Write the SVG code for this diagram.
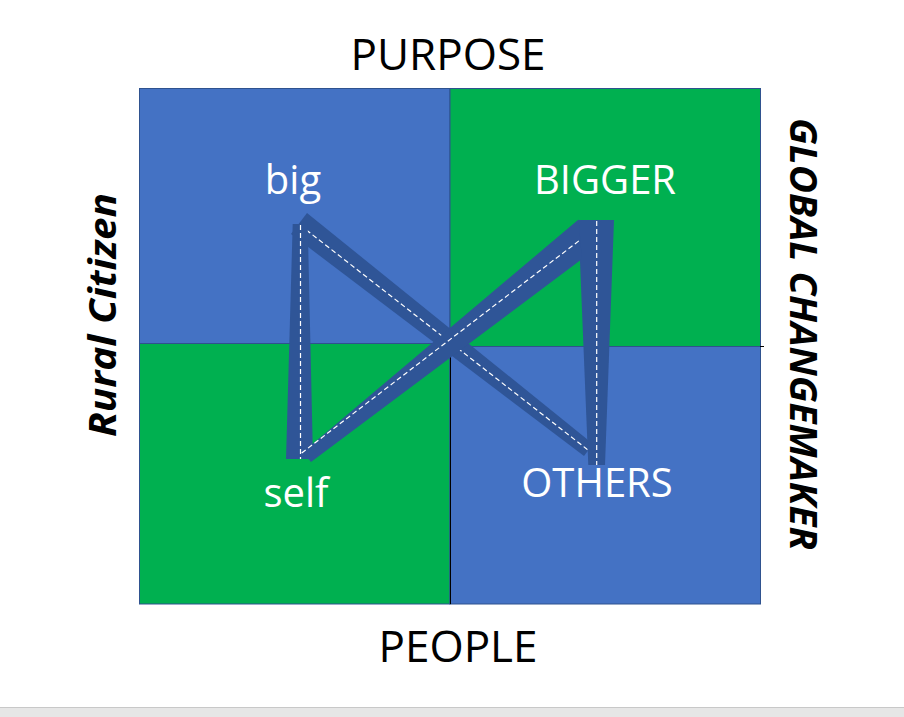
<svg xmlns="http://www.w3.org/2000/svg" width="904" height="717" viewBox="0 0 904 717">
<style>
.q{stroke:#2F528F;stroke-width:1}
.blue{fill:#4472C4}
.green{fill:#00B050}
.band{fill:#2F5597}
.dash{fill:none;stroke:#FFFFFF;stroke-width:1.2;stroke-dasharray:5 3}
.lbl{font-family:"Open Sans","Liberation Sans",sans-serif;font-size:40px;fill:#FFFFFF;text-anchor:middle}
.axis{font-family:"Open Sans","Liberation Sans",sans-serif;font-size:44px;fill:#000000;text-anchor:middle}
.side{font-family:"Open Sans","Liberation Sans",sans-serif;font-weight:bold;font-style:italic;fill:#000000;text-anchor:middle}
</style>
<rect x="0" y="0" width="904" height="717" fill="#FFFFFF"/>
<g id="footer-bar">
<rect x="0" y="707" width="904" height="10" fill="#E6E6E6"/>
<line x1="0" y1="707.5" x2="904" y2="707.5" stroke="#C8C8C8" stroke-width="1"/>
</g>
<g id="quadrants">
<g id="q-top-left"><rect class="q blue" x="139.5" y="88.5" width="310.5" height="255"/></g>
<g id="q-top-right"><rect class="q green" x="450" y="88.5" width="310.5" height="258"/></g>
<g id="q-bottom-left"><rect class="q green" x="139.5" y="343.5" width="310.5" height="260.5"/></g>
<g id="q-bottom-right"><rect class="q blue" x="450" y="346.5" width="310.5" height="257.5"/></g>
<line x1="450.5" y1="343" x2="450.5" y2="604" stroke="#000000" stroke-width="1"/>
<line x1="760" y1="346.5" x2="764" y2="346.5" stroke="#000000" stroke-width="1"/>
</g>
<g id="connectors">
<g id="band-big-others">
<polygon class="band" points="307,213 593,444 584,456 291,234"/>
<line class="dash" x1="300" y1="225" x2="588" y2="450"/>
</g>
<g id="strip-self-big">
<polygon class="band" points="292.7,224 307.7,224 313,459 286,459"/>
<line class="dash" x1="300.5" y1="225" x2="300.5" y2="459"/>
</g>
<g id="strip-others-bigger">
<polygon class="band" points="578.3,220 614,220 605,465 588.3,465"/>
<line class="dash" x1="596.7" y1="221" x2="596.7" y2="465"/>
</g>
<g id="band-self-bigger">
<polygon class="band" points="303,452 578.5,219.5 582,259 311,462"/>
<line class="dash" x1="301.7" y1="453" x2="580" y2="240"/>
</g>
</g>
<g id="label-big"><text class="lbl" x="293" y="194">big</text></g>
<g id="label-bigger"><text class="lbl" x="605" y="194">BIGGER</text></g>
<g id="label-self"><text class="lbl" x="296" y="507">self</text></g>
<g id="label-others"><text class="lbl" x="597" y="497">OTHERS</text></g>
<g id="label-purpose"><text class="axis" x="448" y="70">PURPOSE</text></g>
<g id="label-people"><text class="axis" x="458" y="662">PEOPLE</text></g>
<g id="label-rural"><text class="side" font-size="37" transform="translate(116,315) rotate(-90)" textLength="244" lengthAdjust="spacingAndGlyphs">Rural Citizen</text></g>
<g id="label-global"><text class="side" font-size="38" transform="translate(790,334) rotate(90)" textLength="432" lengthAdjust="spacingAndGlyphs">GLOBAL CHANGEMAKER</text></g>
</svg>
